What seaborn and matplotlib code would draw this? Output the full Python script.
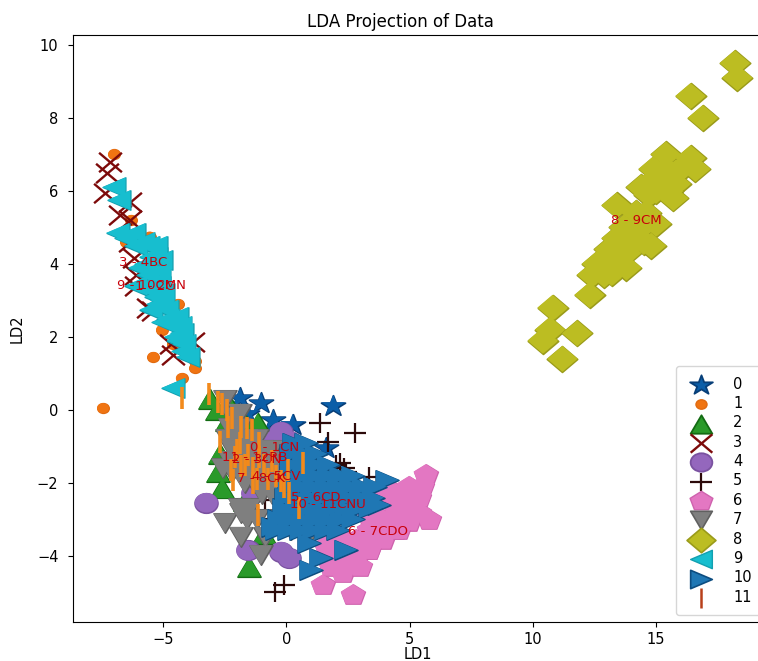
import matplotlib
matplotlib.use("Agg")
import matplotlib.pyplot as plt
from matplotlib.markers import MarkerStyle
from matplotlib.transforms import Affine2D
import seaborn as sns

# ----------------------------
# Points per class
# ----------------------------
x0 = [-1.88, -1.03, -1.58, -0.53, 0.25, 1.9, 1.6, -0.7, -0.08]
y0 = [0.32, 0.18, -0.1, -0.28, -0.4, 0.12, -1.05, -0.73, -1.0]

x1 = [-7.0, -5.55, -6.3, -6.5, -4.4, -5.05, -4.6, -5.4, -3.7, -4.25, -7.45, -3.7]
y1 = [7.0, 4.75, 5.2, 4.6, 2.9, 2.2, 1.8, 1.45, 1.15, 0.87, 0.05, 1.35]

x2 = [-3.1, -2.8, -1.84, -1.17, -2.4, -1.5, -2.6, -2.7, -2.77, -0.9, -0.3, -1.7, -2.3, -1.5]
y2 = [0.3, 0.0, -0.2, -0.36, -0.3, -4.3, -2.15, -1.2, -1.7, -3.4, -2.9, -2.5, 0.1, -0.5]

x3 = [-7.15, -7.3, -7.35, -6.75, -6.35, -6.35, -6.2, -6.1, -6.1, -5.6, -5.4, -4.7, -4.6, -3.8, -6.35]
y3 = [6.8, 6.5, 5.95, 5.35, 5.2, 4.6, 4.15, 3.7, 3.4, 2.8, 2.7, 1.8, 1.5, 1.85, 5.7]

x4 = [-3.25, -1.57, -0.22, 0.12, -0.22, -0.55, 0.12, -1.36, -0.55, -1.4, 0.1, -0.2, 0.0]
y4 = [-2.54, -3.85, -3.88, -4.06, -0.6, -0.85, -0.85, -2.28, -1.37, -1.0, -2.6, -1.1, -1.9]

x5 = [1.37, 2.78, 1.67, 2.17, 2.35, 2.4, 3.35, 1.13, -0.88, -0.95, 1.28, 1.5, -0.1, -0.46, 2.0]
y5 = [-0.37, -0.64, -0.89, -1.46, -1.6, -1.7, -1.85, -1.4, -2.47, -3.0, -3.0, -3.47, -4.8, -5.0, -1.5]

x6 = [5.65, 5.8, 5.05, 1.47, 2.7, 2.28, 1.8, 4.98, 4.57, 3.9, 3.37, 2.82, 2.0, 1.6, 2.3, 3.36, 4.2,
      4.57, 5.25, 5.4, 4.98, 4.03, 4.44, 4.98, 4.44, 4.98, 3.9, 4.44, 3.36, 3.9, 4.44, 2.82, 2.28, 2.82,
      1.74, 2.28, 3.36, 4.98, 5.4, 5.52, 4.2, 3.36, 3.0, 2.5]
y6 = [-1.78, -3.02, -2.56, -4.8, -5.07, -4.47, -4.3, -3.06, -3.29, -3.56, -3.84, -4.1, -4.1, -3.74,
      -3.56, -3.29, -3.01, -2.65, -2.28, -2.83, -2.1, -2.28, -2.47, -2.47, -2.74, -2.74, -3.01, -3.01,
      -3.56, -3.29, -3.29, -3.56, -3.84, -3.84, -3.84, -4.11, -3.84, -2.2, -2.4, -2.1, -2.2, -2.9,
      -4.3, -3.9]

x7 = [-2.5, -1.84, -1.84, -1.05, -0.85, -2.58, -2.5, -2.2, -1.9,
      -2.3, -1.9, -2.4, -2.0, -1.6, -1.2, -2.2, -1.8, -1.4, -1.0, -0.6,
      -2.3, -1.9, -1.5, -1.1, -0.7, -0.3, -2.2, -1.8, -1.4, -1.0, -0.6, -0.2, 0.2,
      -1.7, -1.3, -0.9, -0.5, -0.1, -1.0, -0.6, -0.2, -1.9, -1.5, -1.6, -1.2, -0.2, 0.93, 0.2]
y7 = [-3.1, -2.83, -3.47, -3.97, -3.47, -1.6, 0.27, -0.2, -0.1,
      -0.5, -0.5, -0.8, -0.8, -0.8, -0.8, -1.1, -1.1, -1.1, -1.1, -1.1,
      -1.4, -1.4, -1.4, -1.4, -1.4, -1.4, -1.7, -1.7, -1.7, -1.7, -1.7, -1.7, -1.7,
      -2.0, -2.0, -2.0, -2.0, -2.0, -2.3, -2.3, -2.3, -2.7, -2.7, -3.0, -3.0, -3.0, -3.42, -3.3]

x8 = [18.2, 18.3, 16.4, 16.9, 15.4, 16.4, 16.6, 15.7, 14.4, 15.1, 15.8, 14.9, 13.4, 15.0, 14.8, 14.2,
      13.4, 14.1, 13.8, 14.4, 12.6, 12.4, 13.2, 12.3, 13.4, 10.8, 10.7, 10.4, 11.8, 11.2,
      15.0, 15.3, 15.8, 16.0, 14.7, 15.4, 15.5, 14.7, 14.2, 13.8, 14.5, 13.9, 14.5, 13.7, 13.6,
      13.2, 13.0, 12.9, 13.8, 13.1, 12.9, 14.6]
y8 = [9.5, 9.1, 8.6, 8.0, 7.0, 6.9, 6.6, 5.8, 6.1, 6.3, 6.5, 6.6, 5.6, 5.1, 4.5, 5.4,
      4.7, 4.6, 4.3, 5.0, 4.0, 3.7, 3.75, 3.15, 4.0, 2.8, 2.2, 1.9, 2.1, 1.4,
      6.0, 6.2, 6.2, 6.6, 6.2, 6.6, 6.0, 5.9, 4.9, 4.9, 4.6, 4.5, 5.2, 5.0, 4.3,
      4.2, 4.0, 3.7, 3.9, 4.4, 3.9, 5.4]

x9 = [-7.0, -6.8, -6.85, -6.2, -6.1, -5.3, -5.95, -5.15, -5.15, -6.1, -5.3, -4.85, -4.45, -5.0,
      -4.25, -4.15, -4.0, -4.6, -5.6, -5.5, -6.5, -5.8, -5.6, -5.3, -5.7, -5.1, -5.6, -5.3, -5.6,
      -5.0, -5.05, -4.8, -4.6, -4.3, -4.4, -4.2, -4.5, -5.2, -5.5]
y9 = [6.1, 5.75, 4.85, 4.85, 4.5, 4.5, 3.9, 3.8, 3.4, 3.4, 3.1, 2.75, 2.55, 2.4,
      2.1, 1.8, 1.45, 0.6, 3.7, 4.2, 4.7, 4.6, 4.5, 4.2, 4.0, 4.1, 3.4, 3.5, 3.3,
      3.2, 3.0, 2.5, 2.3, 2.3, 1.9, 1.6, 2.0, 2.9, 2.75]

x10 = [4.1, 0.92, 2.41, 1.4, 1.0, -0.55, 3.75, 0.3, 0.8, 0.2, 0.7, 1.2, 0.2, 0.7, 1.2, 1.7,
       0.2, 0.7, 1.2, 1.7, 2.2, 2.7, 0.1, 0.6, 1.1, 1.6, 2.1, 2.6, 3.1, 3.6,
       0.0, 0.5, 1.0, 1.5, 2.0, 2.5, 3.0, 3.5, -0.1, 0.4, 0.9, 1.4, 1.9, 2.4, 2.9, 3.4,
       -0.3, 0.2, 0.7, 1.2, 1.7, 2.2, 2.7, -0.4, 0.1, 0.6, 1.1, 1.6, 2.1]
y10 = [-1.92, -3.65, -3.83, -4.06, -4.38, -3.2, -2.6, -0.9, -0.9, -1.2, -1.2, -1.2, -1.5, -1.5, -1.5, -1.5,
       -1.8, -1.8, -1.8, -1.8, -1.8, -1.8, -2.1, -2.1, -2.1, -2.1, -2.1, -2.1, -2.1, -2.1,
       -2.4, -2.4, -2.4, -2.4, -2.4, -2.4, -2.4, -2.4, -2.7, -2.7, -2.7, -2.7, -2.7, -2.7, -2.7, -2.7,
       -3.0, -3.0, -3.0, -3.0, -3.0, -3.0, -3.0, -3.3, -3.3, -3.3, -3.3, -3.3, -3.3]

x11 = [-4.25, -3.15, -2.78, -2.6, -2.42, -2.2, -2.38, -1.84, -1.6, -1.39, -2.7, -1.1, -2.0, -1.55, -2.24,
       -1.83, -1.36, -1.1, -2.17, -0.76, -0.42, -0.22, 0.05, 0.12, 0.69, 0.52, -1.17, -1.36,
       -1.9, -1.7, -0.9, -0.6, -0.1, -2.1, -1.2]
y11 = [0.33, 0.44, 0.23, 0.16, 0.0, -0.23, -0.46, -0.46, -0.5, -0.55, -0.87, -0.91, -1.1, -1.23, -1.64,
       -1.55, -1.6, -1.3, -1.92, -1.9, -1.8, -1.96, -1.64, -2.28, -1.46, -2.7, -2.87, -2.01,
       -0.9, -1.5, -1.5, -1.4, -2.1, -1.3, -1.9]

xs = [x0, x1, x2, x3, x4, x5, x6, x7, x8, x9, x10, x11]
ys = [y0, y1, y2, y3, y4, y5, y6, y7, y8, y9, y10, y11]

markers = ["*", "o", "^", "x", "o", "+", "p", "v", "D", "<", ">", "|"]
sizes = [330, 70, 270, 270, 270, 270, 330, 270, 240, 270, 270, 330]
colors = ["#0b5ea8", "#f07412", "#2a9a2a", "#7d0a0a", "#9467bd", "#2c0a0a",
          "#e377c2", "#7f7f7f", "#bcbd22", "#17becf", "#1f77b4", "#f28a1c"]
edges = ["#083f78", "#e06a10", "#136b13", "#7d0a0a", "#7a52a0", "#2c0a0a",
         "#cf62ae", "#606060", "#9a9b1a", "#12a0b0", "#0d4d80", "#f28a1c"]
widths = [1.3, 1.0, 1.3, 1.7, 1.3, 1.6, 1.0, 1.2, 1.2, 1.0, 1.2, 2.6]

# cluster labels
label_text = ["0 - 1CN", "11 - 12RB", "2 - 3CN", "7 - 8CK", "4 - 5CV", "5 - 6CD",
              "10 - 11CNU", "6 - 7CDO", "8 - 9CM", "3 - 4BC", "9 - 10CMN", "1 - 2C"]
label_x = [-0.49, -1.3, -1.2, -1.05, -0.4, 1.2, 1.7, 3.72, 14.2, -5.83, -5.47, -5.34]
label_y = [-1.04, -1.31, -1.35, -1.89, -1.83, -2.39, -2.58, -3.34, 5.18, 4.05, 3.4, 3.37]

# ----------------------------
# Plot
# ----------------------------
fig = plt.figure(figsize=(7.58, 6.61), dpi=100)
ax = fig.add_axes([73 / 758, 1 - 622 / 661, (762 - 73) / 758, (622 - 35) / 661])

for i in range(12):
    # the picture is squashed a bit vertically, so the markers are too
    m = MarkerStyle(markers[i], transform=Affine2D().scale(1.0, 0.85))
    line_only = markers[i] in ["x", "+", "|"]
    kw = {"linewidth": widths[i]} if line_only else {"edgecolor": edges[i], "linewidth": widths[i]}
    sns.scatterplot(x=xs[i], y=ys[i], marker=m, s=sizes[i], color=colors[i],
                    label=str(i), ax=ax, zorder=2 + i * 0.01, **kw)
    # second pass without edges, so a cluster keeps its rim only on the outside
    if not line_only:
        sns.scatterplot(x=xs[i], y=ys[i], marker=m, s=sizes[i], color=colors[i],
                        edgecolor="none", linewidth=0, ax=ax, zorder=2 + i * 0.01)

for t, tx, ty in zip(label_text, label_x, label_y):
    ax.text(tx, ty, t, color="#c8000a", fontsize=9.5, ha="center", va="center", zorder=5)

ax.set_xlim(-8.66, 19.3)
ax.set_ylim(-5.81, 10.27)
ax.set_xticks([-5, 0, 5, 10, 15])
ax.set_yticks([-4, -2, 0, 2, 4, 6, 8, 10])
ax.tick_params(axis="both", labelsize=10.5)
ax.tick_params(axis="y", pad=7)
ax.set_title("LDA Projection of Data", fontsize=12, x=0.475)
ax.set_xlabel("LD1", fontsize=10.5, labelpad=0.5)
ax.set_ylabel("LD2", fontsize=10.5, labelpad=9)

leg = ax.legend(loc="lower right", bbox_to_anchor=(1.0, 0.012), labelspacing=0.3, fontsize=10.5,
                borderpad=0.7, handletextpad=1.2, borderaxespad=0.0, markerscale=0.95)
leg.set_zorder(6)
leg.legend_handles[11].set_edgecolor("#b8401a")
leg.legend_handles[11].set_linewidth(1.8)

plt.savefig("out.png", dpi=100)
plt.close()
